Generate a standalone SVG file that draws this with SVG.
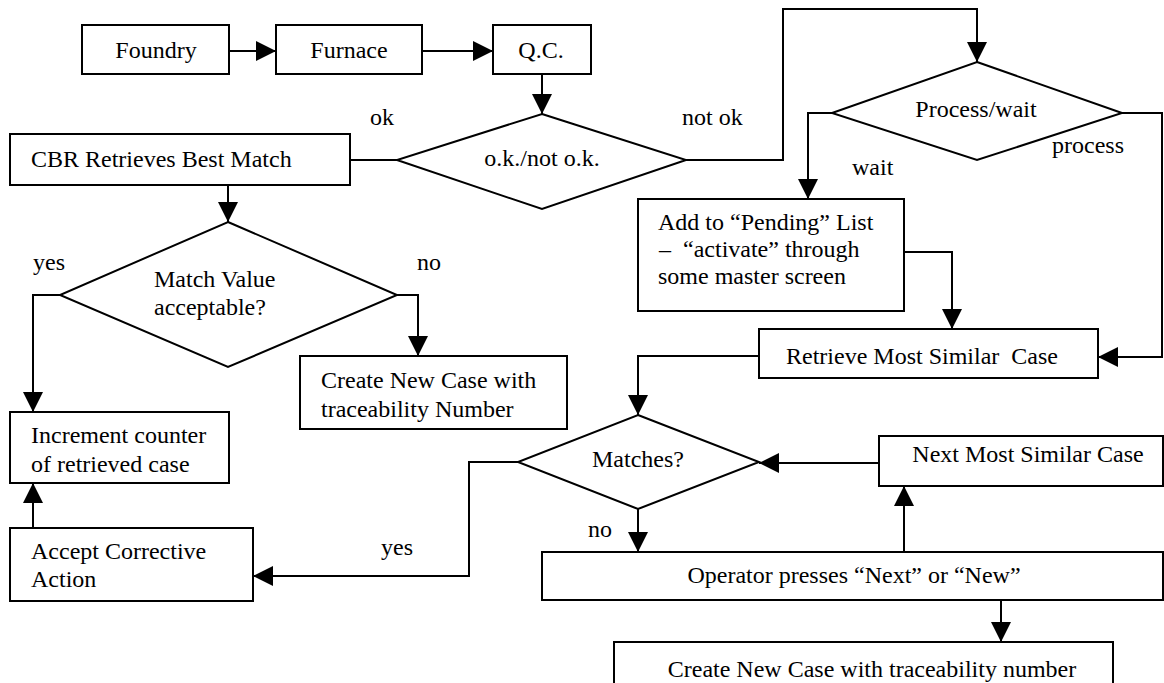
<svg xmlns="http://www.w3.org/2000/svg" width="1164" height="683" viewBox="0 0 1164 683">
<style>
.box{fill:#fff;stroke:#000;stroke-width:2}
.dia{fill:#fff;stroke:#000;stroke-width:2}
.t{font-family:"Liberation Serif","Times New Roman","DejaVu Serif",serif;font-size:24px;fill:#000}
.m{text-anchor:middle}
.c{fill:none;stroke:#000;stroke-width:2;marker-end:url(#ah)}
.cn{fill:none;stroke:#000;stroke-width:2}
</style>
<defs>
<marker id="ah" markerUnits="userSpaceOnUse" markerWidth="20" markerHeight="20" refX="20" refY="10" orient="auto">
<path d="M0,0 L20,10 L0,20 z" fill="#000"/>
</marker>
</defs>
<rect width="1164" height="683" fill="#fff"/>
<g id="connectors">
<path class="c" d="M229,51 H276"/>
<path class="c" d="M422,51 H493"/>
<path class="c" d="M542,74 V114"/>
<path class="cn" d="M397,160 H350"/>
<path class="c" d="M686,160 H783 V9 H977 V62"/>
<path class="c" d="M832,113 H808 V199"/>
<path class="c" d="M1122,113 H1162 V357 H1098"/>
<path class="c" d="M904,252 H952 V329"/>
<path class="c" d="M759,356 H638 V415"/>
<path class="c" d="M228,185 V222"/>
<path class="c" d="M60,295 H33 V412"/>
<path class="c" d="M397,295 H418 V356"/>
<path class="c" d="M33,528 V483"/>
<path class="c" d="M518,462 H469 V576 H253"/>
<path class="c" d="M638,509 V552"/>
<path class="c" d="M879,463 H759"/>
<path class="c" d="M904,552 V486"/>
<path class="c" d="M1001,600 V642"/>
</g>
<g id="labels">
<text class="t" x="370" y="125">ok</text>
<text class="t" x="682" y="125">not ok</text>
<text class="t" x="852" y="175">wait</text>
<text class="t" x="1052" y="153">process</text>
<text class="t" x="33" y="270">yes</text>
<text class="t" x="417" y="270">no</text>
<text class="t" x="381" y="555">yes</text>
<text class="t" x="588" y="537">no</text>
</g>
<g id="foundry"><rect class="box" x="82" y="25" width="147" height="49"/><text class="t m" x="156" y="58">Foundry</text></g>
<g id="furnace"><rect class="box" x="276" y="25" width="146" height="49"/><text class="t m" x="349" y="58">Furnace</text></g>
<g id="qc"><rect class="box" x="493" y="25" width="98" height="49"/><text class="t m" x="541" y="58">Q.C.</text></g>
<g id="okdecision"><polygon class="dia" points="542,114 686,160 542,209 397,160"/><text class="t m" x="542" y="166">o.k./not o.k.</text></g>
<g id="cbr"><rect class="box" x="10" y="134" width="340" height="51"/><text class="t" x="31" y="167">CBR Retrieves Best Match</text></g>
<g id="processwait"><polygon class="dia" points="977,62 1122,113 977,160 832,113"/><text class="t m" x="976" y="117">Process/wait</text></g>
<g id="pending"><rect class="box" x="638" y="199" width="266" height="112"/>
<text class="t" x="658" y="230">Add to “Pending” List</text>
<text class="t" x="659" y="257" xml:space="preserve">–  “activate” through</text>
<text class="t" x="658" y="284">some master screen</text></g>
<g id="retrieve"><rect class="box" x="759" y="329" width="339" height="49"/><text class="t" x="786" y="364" xml:space="preserve">Retrieve Most Similar  Case</text></g>
<g id="matchvalue"><polygon class="dia" points="228,222 397,295 228,367 60,295"/>
<text class="t" x="154" y="287">Match Value</text>
<text class="t" x="154" y="315">acceptable?</text></g>
<g id="createnew1"><rect class="box" x="300" y="356" width="267" height="73"/>
<text class="t" x="321" y="388">Create New Case with</text>
<text class="t" x="321" y="417">traceability Number</text></g>
<g id="increment"><rect class="box" x="10" y="412" width="219" height="71"/>
<text class="t" x="31" y="443">Increment counter</text>
<text class="t" x="31" y="472">of retrieved case</text></g>
<g id="accept"><rect class="box" x="10" y="528" width="243" height="73"/>
<text class="t" x="31" y="559">Accept Corrective</text>
<text class="t" x="31" y="587">Action</text></g>
<g id="matches"><polygon class="dia" points="638,415 759,462 638,509 518,462"/><text class="t m" x="638" y="467">Matches?</text></g>
<g id="next"><rect class="box" x="879" y="436" width="284" height="50"/><text class="t m" x="1028" y="462">Next Most Similar Case</text></g>
<g id="operator"><rect class="box" x="542" y="552" width="621" height="48"/><text class="t m" x="854" y="583">Operator presses “Next” or “New”</text></g>
<g id="createnew2"><rect class="box" x="614" y="642" width="499" height="50"/><text class="t m" x="872" y="677">Create New Case with traceability number</text></g>
</svg>
